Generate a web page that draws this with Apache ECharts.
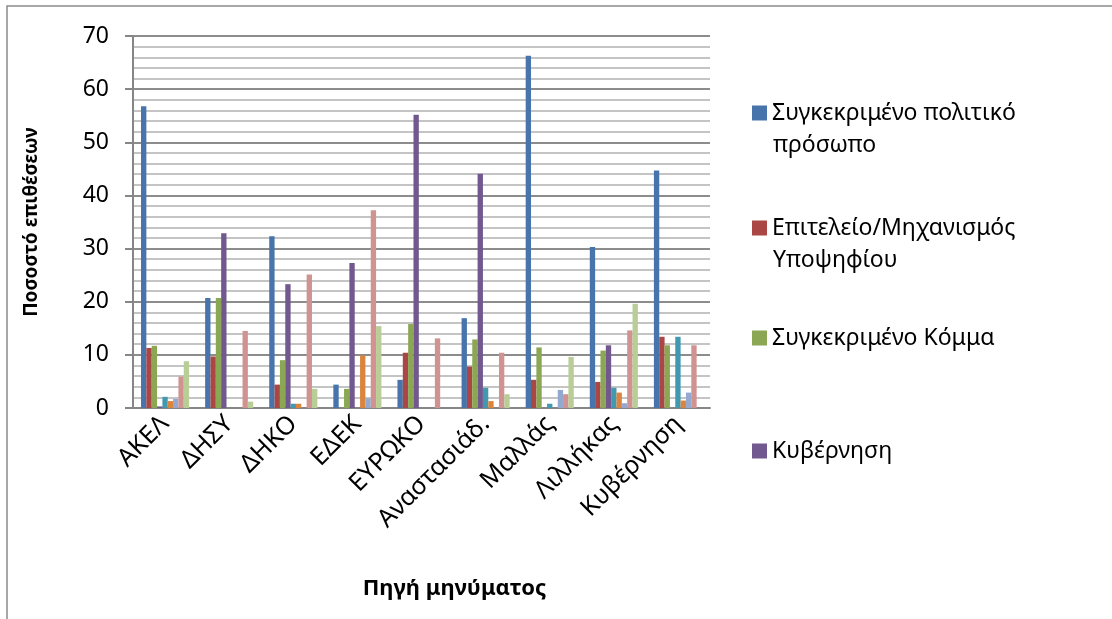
<!DOCTYPE html>
<html>
<head>
<meta charset="utf-8">
<script src="https://cdn.jsdelivr.net/npm/echarts@6/dist/echarts.min.js"></script>
<style>html,body{margin:0;padding:0;background:#fff;}#c{width:1112px;height:619px;}</style>
</head>
<body>
<div id="c"></div>
<script>
var categories = ['ΑΚΕΛ','ΔΗΣΥ','ΔΗΚΟ','ΕΔΕΚ','ΕΥΡΩΚΟ','Αναστασιάδ.','Μαλλάς','Λιλλήκας','Κυβέρνηση'];
var seriesNames = ['Συγκεκριμένο πολιτικό πρόσωπο','Επιτελείο/Μηχανισμός Υποψηφίου','Συγκεκριμένο Κόμμα','Κυβέρνηση','Σειρά 5','Σειρά 6','Σειρά 7','Σειρά 8','Σειρά 9'];
var s1 = [56.8, 20.7, 32.3, 4.4, 5.3, 16.9, 66.3, 30.3, 44.7];
var s2 = [11.3, 9.7, 4.4, 0, 10.4, 7.8, 5.3, 4.9, 13.4];
var s3 = [11.7, 20.7, 9.0, 3.6, 15.8, 12.9, 11.4, 10.8, 11.8];
var s4 = [0.3, 32.9, 23.3, 27.3, 55.2, 44.1, 0, 11.8, 0];
var s5 = [2.1, 0, 0.8, 0, 0, 3.8, 0.8, 3.8, 13.4];
var s6 = [1.3, 0, 0.8, 9.9, 0, 1.3, 0, 2.9, 1.4];
var s7 = [1.7, 0, 0, 1.8, 0, 0, 3.4, 0.9, 2.9];
var s8 = [5.9, 14.5, 25.1, 37.2, 13.1, 10.4, 2.6, 14.6, 11.8];
var s9 = [8.8, 1.2, 3.6, 15.4, 0, 2.6, 9.6, 19.6, 0];
var yTicks = [0, 10, 20, 30, 40, 50, 60, 70];

var values = [s1, s2, s3, s4, s5, s6, s7, s8, s9];
var colors = ['#4674AB','#AA4643','#8BA753','#71588F','#4198AF','#DB843D','#93A9CF','#D19392','#B9CD96'];
var FONT = 'Noto Sans';
var LEG = 23;

var series = values.map(function (v, i) {
  return {
    name: seriesNames[i], type: 'bar', data: v,
    barGap: '0%', barCategoryGap: '25%',
    itemStyle: { color: colors[i] }
  };
});

function legendFor(i, top, label) {
  return {
    data: [seriesNames[i]], left: 752, top: top, orient: 'vertical',
    padding: 0, itemWidth: 15, itemHeight: 15, itemGap: 0,
    icon: 'rect', selectedMode: false,
    formatter: function () { return label; },
    textStyle: { fontFamily: FONT, fontSize: LEG, color: '#000', lineHeight: 28 }
  };
}

var chart = echarts.init(document.getElementById('c'));
chart.setOption({
  animation: false,
  color: colors,
  grid: { left: 133, right: 402, top: 36, bottom: 211, containLabel: false },
  legend: [
    legendFor(0, 99, 'Συγκεκριμένο πολιτικό'),
    legendFor(1, 214, 'Επιτελείο/Μηχανισμός'),
    legendFor(2, 324, 'Συγκεκριμένο Κόμμα'),
    legendFor(3, 437, 'Κυβέρνηση')
  ],
  graphic: [
    { type: 'rect', shape: { x: 7, y: 6, width: 1200, height: 700 }, style: { fill: 'none', stroke: '#8a8a8a', lineWidth: 1.5 }, silent: true },
    { type: 'text', left: 773, top: 134, style: { text: 'πρόσωπο', font: LEG + 'px "Noto Sans"', fill: '#000' } },
    { type: 'text', left: 773, top: 249, style: { text: 'Υποψηφίου', font: LEG + 'px "Noto Sans"', fill: '#000' } }
  ],
  xAxis: {
    type: 'category', data: categories,
    name: 'Πηγή μηνύματος', nameLocation: 'middle', nameGap: 170,
    nameTextStyle: { fontFamily: FONT, fontSize: 22, fontWeight: 'bold', color: '#000', padding: [0, 0, 0, 66] },
    axisLine: { lineStyle: { color: '#868686', width: 2 } },
    axisTick: { show: false },
    axisLabel: { rotate: 45, fontFamily: FONT, fontSize: 25, color: '#000', margin: 12, interval: 0 },
    splitLine: { show: false }
  },
  yAxis: {
    type: 'value', min: yTicks[0], max: yTicks[yTicks.length - 1], interval: 10,
    name: 'Ποσοστό επιθέσεων', nameLocation: 'middle', nameGap: 92, nameRotate: 90,
    nameTextStyle: { fontFamily: FONT, fontSize: 19, fontWeight: 'bold', color: '#000' },
    axisLine: { show: true, lineStyle: { color: '#868686', width: 2 } },
    axisTick: { show: true, length: 8, lineStyle: { color: '#868686', width: 2 } },
    axisLabel: { fontFamily: FONT, fontSize: 23, color: '#000', margin: 24 },
    splitLine: { show: true, lineStyle: { color: '#8c8c8c', width: 2 } },
    minorTick: { show: false, splitNumber: 5 },
    minorSplitLine: { show: true, lineStyle: { color: '#c4c4c4', width: 2 } }
  },
  series: series
});
</script>
</body>
</html>
